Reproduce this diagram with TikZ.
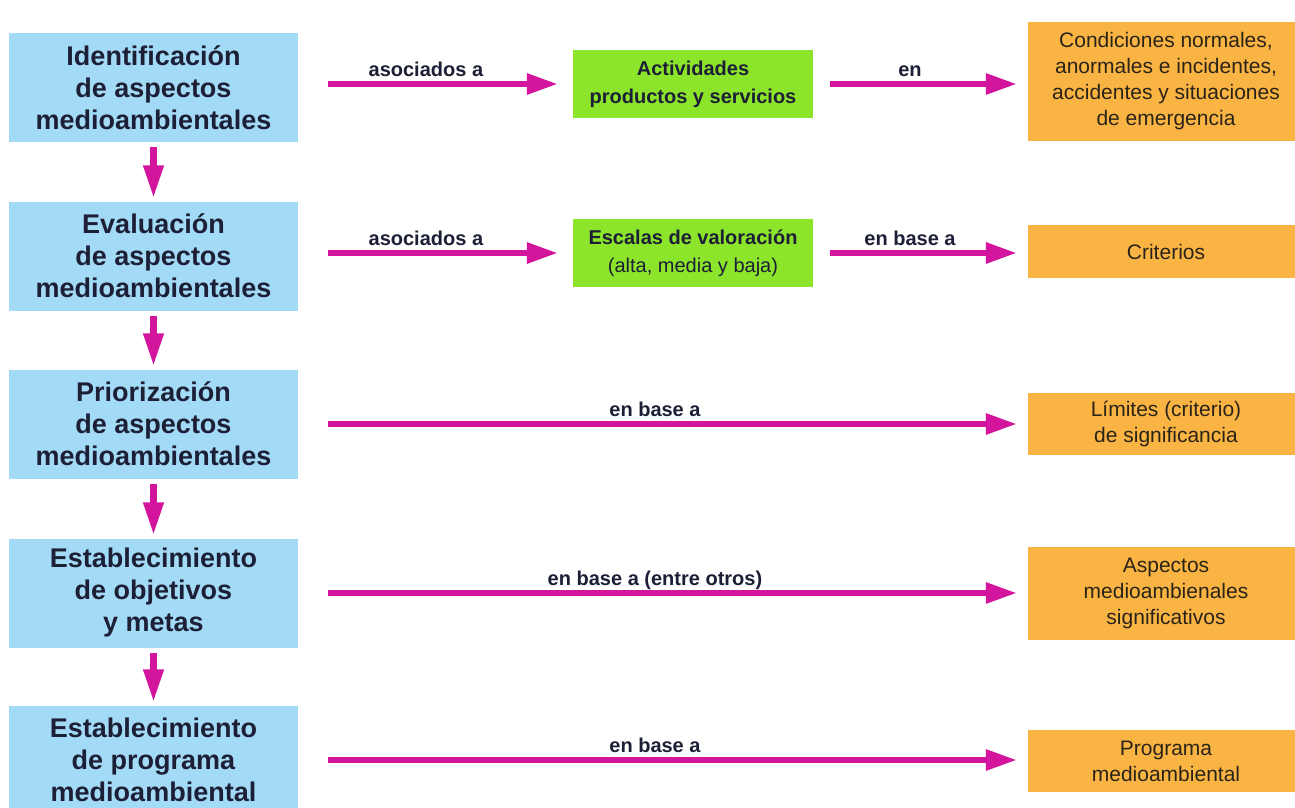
\documentclass[tikz,border=0pt]{standalone}
\usepackage{fontspec}
\setmainfont{Liberation Sans}
\usetikzlibrary{arrows.meta}
\definecolor{cblue}{HTML}{A3DBF7}
\definecolor{cgreen}{HTML}{8CE52A}
\definecolor{corange}{HTML}{FAB443}
\definecolor{cmag}{HTML}{D3159E}
\definecolor{cnavy}{HTML}{1C1F35}
\definecolor{cdark}{HTML}{2A2418}
\tikzset{
  bluebox/.style={fill=cblue, minimum width=289pt, minimum height=109pt, inner sep=0pt,
    align=center, text=cnavy, font=\fontsize{27}{32}\selectfont\bfseries},
  greenbox/.style={fill=cgreen, minimum width=240pt, minimum height=68pt, inner sep=0pt,
    align=center, text=cnavy, font=\fontsize{20}{28}\selectfont},
  orangebox/.style={fill=corange, minimum width=276pt, inner sep=0pt,
    align=center, text=cdark, font=\fontsize{21}{26}\selectfont},
  conn/.style={draw=cmag, line width=6pt, -{Triangle[length=31pt,width=20pt]}},
  vconn/.style={draw=cmag, line width=7pt, -{Triangle[length=33pt,width=19pt]},
    shorten <=5pt, shorten >=3pt},
  lab/.style={anchor=base, yshift=8pt, text=cnavy, font=\fontsize{20}{24}\selectfont\bfseries}
}
\begin{document}
\begin{tikzpicture}[x=1pt,y=-1pt]
\useasboundingbox (0,0) rectangle (1295,808);
\clip (0,0) rectangle (1295,808);
\fill[white] (0,0) rectangle (1295,808);
% left column
\node[bluebox] (b1) at (153.5,87.5) {Identificación\\de aspectos\\medioambientales};
\node[bluebox] (b2) at (153.5,256) {Evaluación\\de aspectos\\medioambientales};
\node[bluebox] (b3) at (153.5,424) {Priorización\\de aspectos\\medioambientales};
\node[bluebox] (b4) at (153.5,593) {Establecimiento\\de objetivos\\y metas};
\node[bluebox] (b5) at (153.5,760) {Establecimiento\\de programa\\medioambiental};
% middle
\node[greenbox] (g1) at (693,84) {\bfseries Actividades\\\bfseries productos y servicios};
\node[greenbox] (g2) at (693,253) {\bfseries Escalas de valoración\\(alta, media y baja)};
% right column
\node[orangebox, minimum height=119pt] (o1) at (1166,81.5) {Condiciones normales,\\anormales e incidentes,\\accidentes y situaciones\\de emergencia};
\node[orangebox, minimum height=53pt] (o2) at (1166,251.5) {Criterios};
\node[orangebox, minimum height=62pt] (o3) at (1166,424) {Límites (criterio)\\de significancia};
\node[orangebox, minimum height=93pt] (o4) at (1166,593.5) {Aspectos\\medioambienales\\significativos};
\node[orangebox, minimum height=62pt] (o5) at (1166,761) {Programa\\medioambiental};
% vertical arrows
\draw[vconn] (b1) -- (b2);
\draw[vconn] (b2) -- (b3);
\draw[vconn] (b3) -- (b4);
\draw[vconn] (b4) -- (b5);
% horizontal arrows
\draw[conn, shorten <=30pt, shorten >=15pt] (b1.east |- g1.west) -- node[lab, pos=0.465] {asociados a} (g1.west);
\draw[conn, shorten <=17pt, shorten >=11pt] (g1.east) -- node[lab, pos=0.451] {en} (o1.west |- g1.east);
\draw[conn, shorten <=30pt, shorten >=15pt] (b2.east |- g2.west) -- node[lab, pos=0.465] {asociados a} (g2.west);
\draw[conn, shorten <=17pt, shorten >=11pt] (g2.east) -- node[lab, pos=0.451] {en base a} (o2.west |- g2.east);
\draw[conn, shorten <=30pt, shorten >=11pt] (b3.east) -- node[lab, pos=0.489] {en base a} (o3.west |- b3.east);
\draw[conn, shorten <=30pt, shorten >=11pt] (b4.east) -- node[lab, pos=0.489] {en base a (entre otros)} (o4.west |- b4.east);
\draw[conn, shorten <=30pt, shorten >=11pt] (b5.east) -- node[lab, pos=0.489] {en base a} (o5.west |- b5.east);
\end{tikzpicture}
\end{document}
